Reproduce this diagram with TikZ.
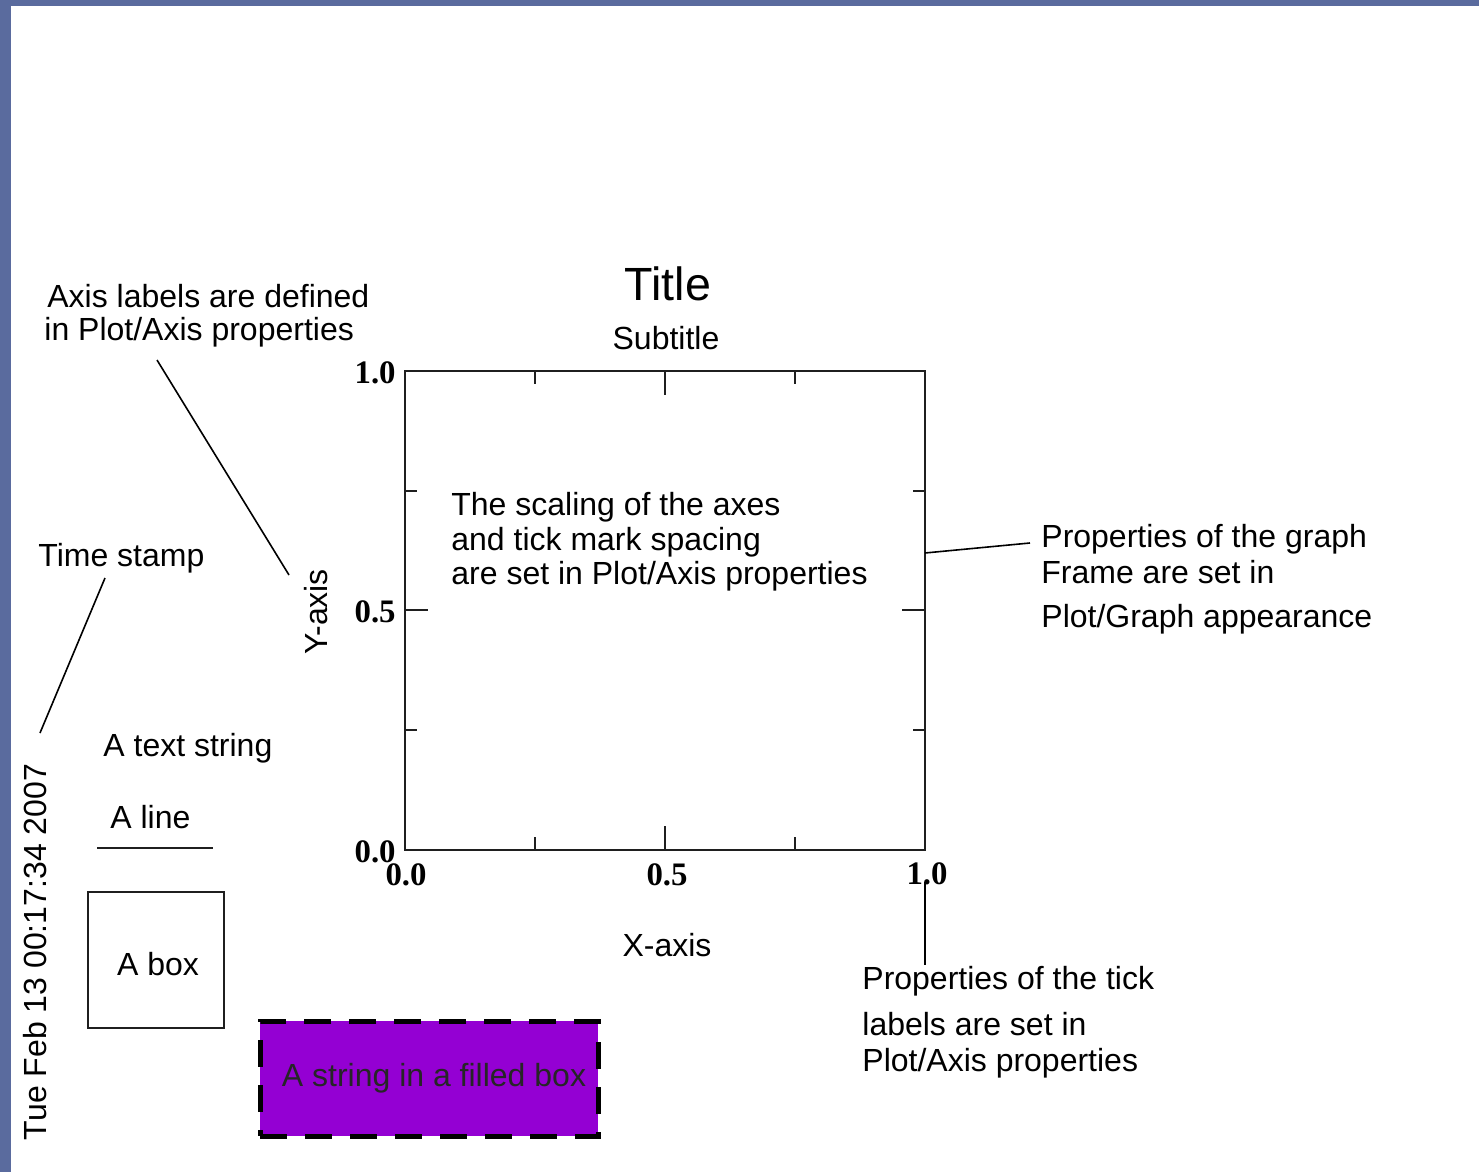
\documentclass[tikz,border=0pt]{standalone}
\usepackage{fontspec}
\setmainfont{Liberation Sans}
\newfontfamily\tickfont{Liberation Serif}
\definecolor{bgblue}{RGB}{90,107,158}
\definecolor{boxpurple}{RGB}{148,0,211}
\begin{document}
\begin{tikzpicture}[x=0.5pt,y=-0.5pt,
  txt/.style={font=\fontsize{16}{19}\selectfont, inner sep=0pt, text=black},
  bigtxt/.style={font=\fontsize{23.3}{27}\selectfont, inner sep=0pt, text=black},
  ticklab/.style={font=\tickfont\bfseries\fontsize{16.4}{19}\selectfont, inner sep=0pt},
  ln/.style={line width=1pt, draw=black!88},
  leader/.style={line width=0.8pt, draw=black}]
\useasboundingbox (0,0) rectangle (1479,1172);
\fill[bgblue] (0,0) rectangle (1479,1172);
\fill[white] (11,6) rectangle (1479,1172);

% plot frame
\node[draw=black!88, line width=1pt, minimum width=260pt, minimum height=239.5pt, inner sep=0pt] (frame) at (665,610.5) {};
% ticks top/bottom
\foreach \x in {535,795} {
  \draw[ln] (\x,371) -- ++(0,13);
  \draw[ln] (\x,850) -- ++(0,-13);
}
\draw[ln] (665,371) -- ++(0,24);
\draw[ln] (665,850) -- ++(0,-24);
% ticks left/right
\foreach \y in {491,730} {
  \draw[ln] (405,\y) -- ++(12,0);
  \draw[ln] (925,\y) -- ++(-12,0);
}
\draw[ln] (405,610) -- ++(23,0);
\draw[ln] (925,610) -- ++(-23,0);

% tick labels
\node[ticklab, anchor=east] (y10) at (396,373) {1.0};
\node[ticklab, anchor=east] (y05) at (396,612) {0.5};
\node[ticklab, anchor=east] (y00) at (396,852) {0.0};
\node[ticklab] (x00) at (406,875) {0.0};
\node[ticklab] (x05) at (667,875) {0.5};
\node[ticklab] (x10) at (927,874) {1.0};

% titles
\node[bigtxt, anchor=base] (title) at (668,300) {Title};
\node[txt, anchor=base] (subtitle) at (666,349) {Subtitle};
\node[txt] (xaxis) at (667,945) {X-axis};
\node[txt, rotate=90] (yaxis) at (316,612) {Y-axis};

% inner text
\node[txt, anchor=base west] (sc1) at (451,515) {The scaling of the axes};
\node[txt, anchor=base west] (sc2) at (451,550) {and tick mark spacing};
\node[txt, anchor=base west] (sc3) at (451,584) {are set in Plot/Axis properties};

% axis labels annotation
\node[txt, anchor=base west] (al1) at (47,307) {Axis labels are defined};
\node[txt, anchor=base west] (al2) at (44,340) {in Plot/Axis properties};
\coordinate (alA) at (157,360);
\coordinate (alB) at (289,575);
\draw[leader] (alA) -- (alB);

% graph frame annotation
\node[txt, anchor=base west] (gf1) at (1041,547) {Properties of the graph};
\node[txt, anchor=base west] (gf2) at (1041,583) {Frame are set in};
\node[txt, anchor=base west] (gf3) at (1041,627) {Plot/Graph appearance};
\coordinate (gfA) at (925,553);
\coordinate (gfB) at (1030,543);
\draw[leader] (gfA) -- (gfB);

% tick label annotation
\node[txt, anchor=base west] (tl1) at (862,989) {Properties of the tick};
\node[txt, anchor=base west] (tl2) at (862,1035) {labels are set in};
\node[txt, anchor=base west] (tl3) at (862,1071) {Plot/Axis properties};
\coordinate (tlA) at (925,882);
\coordinate (tlB) at (925,965);
\draw[leader] (tlA) -- (tlB);

% time stamp
\node[txt, anchor=base west] (ts) at (38,566) {Time stamp};
\node[txt, rotate=90] (date) at (35,952) {Tue Feb 13 00:17:34 2007};
\coordinate (tsA) at (105,578);
\coordinate (tsB) at (40,733);
\draw[leader] (tsA) -- (tsB);

% primitives
\node[txt, anchor=base west] (tstr) at (103,756) {A text string};
\node[txt, anchor=base west] (aline) at (110,828) {A line};
\coordinate (lnA) at (97,848);
\coordinate (lnB) at (213,848);
\draw[ln] (lnA) -- (lnB);
\node[draw=black!88, line width=1pt, minimum width=68pt, minimum height=68pt, inner sep=0pt] (abox) at (156,960) {};
\node[txt] (aboxtxt) at (158,964) {A box};
\node[draw=black, fill=boxpurple, line width=2.5pt, dash pattern=on 13.5pt off 9pt,
      minimum width=169pt, minimum height=57.5pt, inner sep=0pt] (fbox) at (429,1078.5) {};
\node[txt, text=black!85] (fboxtxt) at (434,1078) {A string in a filled box};
\end{tikzpicture}
\end{document}
